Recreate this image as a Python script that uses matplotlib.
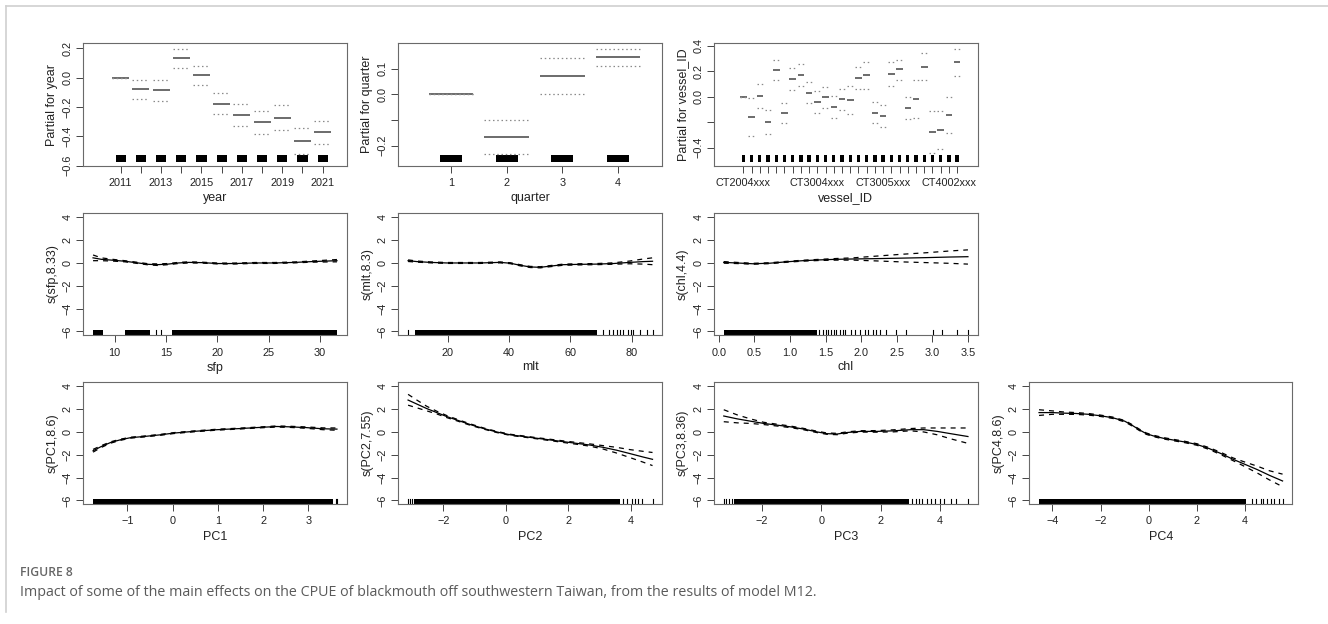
import matplotlib
matplotlib.use('Agg')
import matplotlib.pyplot as plt
from matplotlib.transforms import blended_transform_factory
from matplotlib.patches import Rectangle
from matplotlib.lines import Line2D

plt.rcParams['font.family'] = ['Liberation Sans', 'DejaVu Sans']
plt.rcParams['axes.unicode_minus'] = True

# ---------------- data ----------------
years = [2011, 2012, 2013, 2014, 2015, 2016, 2017, 2018, 2019, 2020, 2021]
year_fit = [0.0, -0.080, -0.086, 0.132, 0.016, -0.177, -0.255, -0.305, -0.273, -0.430, -0.373]
year_upper = [0.0, -0.016, -0.018, 0.198, 0.082, -0.107, -0.182, -0.230, -0.186, -0.341, -0.293]
year_lower = [0.0, -0.145, -0.157, 0.064, -0.052, -0.250, -0.327, -0.384, -0.359, -0.520, -0.455]
year_tick_labels = ['2011', '', '2013', '', '2015', '', '2017', '', '2019', '', '2021']

quarters = [1, 2, 3, 4]
quarter_fit = [0.0, -0.166, 0.071, 0.144]
quarter_upper = [0.0, -0.101, 0.140, 0.178]
quarter_lower = [0.0, -0.231, 0.0, 0.110]
quarter_tick_labels = ['1', '2', '3', '4']

vessel_levels = list(range(1, 28))
vessel_fit = [0.0, -0.16, 0.005, -0.20, 0.21, -0.13, 0.136, 0.167, 0.031, -0.042, -0.005, -0.084,
              -0.021, -0.024, 0.149, 0.167, -0.125, -0.154, 0.175, 0.214, -0.092, -0.021, 0.235,
              -0.28, -0.264, -0.14, 0.27]
vessel_upper = [0.0, -0.01, 0.097, -0.105, 0.29, -0.047, 0.228, 0.254, 0.115, 0.047, 0.076, 0.003,
                0.063, 0.086, 0.235, 0.275, -0.044, -0.068, 0.272, 0.29, -0.005, 0.128, 0.345,
                -0.11, -0.11, 0.0, 0.374]
vessel_lower = [0.0, -0.31, -0.087, -0.29, 0.128, -0.21, 0.05, 0.081, -0.052, -0.13, -0.09, -0.167,
                -0.105, -0.133, 0.063, 0.06, -0.21, -0.235, 0.081, 0.13, -0.175, -0.17, 0.128,
                -0.444, -0.413, -0.282, 0.16]
vessel_tick_labels = ['CT2004xxx'] + [''] * 8 + ['CT3004xxx'] + [''] * 7 + ['CT3005xxx'] + [''] * 7 + ['CT4002xxx', '']

sfp_x = [7.9, 8.7, 9.7, 11.0, 12.3, 13.3, 14.2, 15.2, 16.2, 17.2, 18.5, 20.1, 21.7, 23.7, 25.6, 27.6, 29.2, 31.66]
sfp_fit = [0.45, 0.32, 0.25, 0.15, 0.0, -0.12, -0.15, -0.1, 0.0, 0.05, 0.03, -0.05, -0.05, 0.0, 0.0, 0.05, 0.12, 0.2]
sfp_upper = [0.7, 0.45, 0.33, 0.2, 0.05, -0.07, -0.08, -0.05, 0.05, 0.1, 0.07, -0.01, -0.01, 0.04, 0.04, 0.09, 0.17, 0.3]
sfp_lower = [0.2, 0.2, 0.17, 0.1, -0.05, -0.17, -0.22, -0.15, -0.05, 0.0, -0.01, -0.09, -0.09, -0.04, -0.04, 0.01, 0.07, 0.1]
sfp_rug_spans = [(7.9, 8.9), (11.0, 13.4), (15.6, 31.66)]
sfp_rug_ticks = [14.0, 14.55]

mlt_x = [7.1, 10, 14.4, 19.8, 25.2, 30.6, 37.1, 40.4, 43.6, 46.9, 50.2, 53.4, 57.7, 63.2, 68.6, 74.0, 79.4, 83.8, 86.8]
mlt_fit = [0.2, 0.12, 0.05, 0.0, 0.0, 0.0, 0.05, -0.02, -0.2, -0.35, -0.38, -0.28, -0.15, -0.12, -0.1, -0.05, 0.05, 0.12, 0.15]
mlt_upper = [0.27, 0.17, 0.09, 0.04, 0.04, 0.04, 0.09, 0.02, -0.15, -0.3, -0.33, -0.23, -0.1, -0.07, -0.05, 0.01, 0.17, 0.35, 0.45]
mlt_lower = [0.13, 0.07, 0.01, -0.04, -0.04, -0.04, 0.01, -0.06, -0.25, -0.4, -0.43, -0.33, -0.2, -0.17, -0.15, -0.11, -0.07, -0.1, -0.15]
mlt_rug_spans = [(9.2, 68.6)]
mlt_rug_ticks = [7.1, 70.8, 72.7, 74.0, 75.3, 76.2, 77.3, 78.9, 79.8, 80.5, 82.7, 84.9, 86.8]

chl_x = [0.07, 0.25, 0.48, 0.72, 0.95, 1.18, 1.42, 1.65, 1.89, 2.21, 2.54, 2.92, 3.24, 3.5]
chl_fit = [0.05, 0.0, -0.07, -0.02, 0.1, 0.2, 0.27, 0.32, 0.35, 0.38, 0.42, 0.47, 0.52, 0.55]
chl_upper = [0.12, 0.05, -0.03, 0.02, 0.14, 0.24, 0.32, 0.39, 0.45, 0.6, 0.75, 0.9, 1.05, 1.15]
chl_lower = [-0.02, -0.05, -0.11, -0.06, 0.06, 0.16, 0.22, 0.25, 0.25, 0.18, 0.1, 0.03, -0.03, -0.1]
chl_rug_spans = [(0.07, 1.38)]
chl_rug_ticks = [1.41, 1.46, 1.50, 1.53, 1.58, 1.62, 1.65, 1.70, 1.74, 1.78, 1.86, 1.91, 1.98, 2.05,
                 2.10, 2.17, 2.21, 2.26, 2.35, 2.49, 2.63, 3.01, 3.13, 3.34, 3.50]

pc1_x = [-1.76, -1.59, -1.37, -1.15, -0.93, -0.64, -0.27, 0.02, 0.46, 0.98, 1.49, 1.93, 2.3, 2.59, 2.96, 3.32, 3.63]
pc1_fit = [-1.65, -1.3, -0.92, -0.68, -0.5, -0.4, -0.25, -0.1, 0.05, 0.2, 0.3, 0.4, 0.48, 0.45, 0.38, 0.28, 0.25]
pc1_upper = [-1.53, -1.22, -0.86, -0.63, -0.46, -0.36, -0.21, -0.06, 0.09, 0.24, 0.34, 0.44, 0.53, 0.50, 0.44, 0.36, 0.35]
pc1_lower = [-1.77, -1.38, -0.98, -0.73, -0.54, -0.44, -0.29, -0.14, 0.01, 0.16, 0.26, 0.36, 0.43, 0.40, 0.32, 0.20, 0.15]
pc1_rug_spans = [(-1.76, 3.55)]
pc1_rug_ticks = [3.6, 3.63]

pc2_x = [-3.13, -2.85, -2.53, -2.21, -1.89, -1.57, -1.14, -0.71, -0.29, 0.14, 0.57, 0.99, 1.42, 1.84, 2.27, 2.7, 3.12, 3.55, 3.98, 4.4, 4.7]
pc2_fit = [2.8, 2.45, 2.05, 1.7, 1.35, 1.05, 0.65, 0.3, 0.0, -0.25, -0.4, -0.55, -0.7, -0.85, -1.0, -1.15, -1.35, -1.6, -1.9, -2.2, -2.4]
pc2_upper = [3.3, 2.8, 2.25, 1.82, 1.44, 1.12, 0.71, 0.35, 0.05, -0.2, -0.35, -0.5, -0.64, -0.78, -0.92, -1.05, -1.2, -1.35, -1.55, -1.7, -1.8]
pc2_lower = [2.35, 2.12, 1.85, 1.58, 1.26, 0.98, 0.59, 0.25, -0.05, -0.3, -0.45, -0.6, -0.76, -0.92, -1.08, -1.25, -1.5, -1.85, -2.25, -2.65, -2.95]
pc2_rug_spans = [(-2.95, 3.65)]
pc2_rug_ticks = [-3.13, -3.06, -2.99, 3.76, 3.87, 4.03, 4.14, 4.24, 4.35, 4.7]

pc3_x = [-3.27, -2.82, -2.38, -1.93, -1.48, -1.03, -0.58, -0.13, 0.2, 0.54, 0.87, 1.32, 1.88, 2.44, 3.0, 3.45, 3.9, 4.35, 4.93]
pc3_fit = [1.4, 1.15, 0.95, 0.75, 0.6, 0.45, 0.25, 0.0, -0.15, -0.18, -0.05, 0.05, 0.05, 0.1, 0.2, 0.2, 0.05, -0.15, -0.4]
pc3_upper = [1.95, 1.5, 1.15, 0.85, 0.68, 0.52, 0.31, 0.06, -0.09, -0.12, 0.01, 0.11, 0.12, 0.19, 0.3, 0.35, 0.35, 0.35, 0.35]
pc3_lower = [0.9, 0.8, 0.75, 0.65, 0.52, 0.38, 0.19, -0.06, -0.21, -0.24, -0.11, -0.01, -0.02, 0.01, 0.1, 0.0, -0.25, -0.6, -1.0]
pc3_rug_spans = [(-2.94, 2.95)]
pc3_rug_ticks = [-3.27, -3.18, -3.09, -3.0, 3.06, 3.17, 3.28, 3.39, 3.56, 3.68, 3.81, 3.99, 4.12, 4.35, 4.52, 4.93]

pc4_x = [-4.55, -4.0, -3.5, -3.0, -2.5, -2.0, -1.5, -1.0, -0.7, -0.4, -0.1, 0.2, 0.6, 1.0, 1.5, 2.0, 2.5, 3.0, 3.5, 4.0, 4.5, 5.0, 5.55]
pc4_fit = [1.7, 1.7, 1.65, 1.62, 1.55, 1.42, 1.25, 0.95, 0.6, 0.2, -0.15, -0.35, -0.55, -0.7, -0.88, -1.1, -1.45, -1.9, -2.4, -2.85, -3.3, -3.8, -4.3]
pc4_upper = [1.95, 1.85, 1.75, 1.7, 1.62, 1.48, 1.31, 1.01, 0.66, 0.26, -0.09, -0.29, -0.49, -0.64, -0.82, -1.03, -1.37, -1.8, -2.28, -2.65, -3.0, -3.4, -3.7]
pc4_lower = [1.45, 1.55, 1.55, 1.54, 1.48, 1.36, 1.19, 0.89, 0.54, 0.14, -0.21, -0.41, -0.61, -0.76, -0.94, -1.17, -1.53, -2.0, -2.52, -3.05, -3.6, -4.2, -4.8]
pc4_rug_spans = [(-4.55, 4.05)]
pc4_rug_ticks = [4.29, 4.43, 4.64, 4.75, 4.92, 5.06, 5.2, 5.41, 5.55]

smooth_yticks = [4, 2, 0, -2, -4, -6]

caption_title = "FIGURE 8"
caption_text = ("Impact of some of the main effects on the CPUE of blackmouth off southwestern Taiwan, "
                "from the results of model M12.")

# ---------------- layout ----------------
W, H = 1328, 624
fig = plt.figure(figsize=(W / 100, H / 100), dpi=100)

TICK_FS = 7.8
LAB_FS = 9.0


def add_ax(x0, x1, y0, y1):
    return fig.add_axes([x0 / W, 1 - y1 / H, (x1 - x0) / W, (y1 - y0) / H])


def fig_text(x, y, s, **kw):
    fig.text(x / W, 1 - y / H, s, **kw)


def style(ax, box, xlabel, ylabel, xticks, xticklabels, yticks, yticklabels):
    ax.set_xticks(xticks)
    ax.set_xticklabels(xticklabels)
    ax.set_yticks(yticks)
    ax.set_yticklabels(yticklabels, rotation=90, va='center')
    for s in ax.spines.values():
        s.set_color('#6a6a6a')
        s.set_linewidth(0.8)
    ax.tick_params(direction='out', length=5, width=0.7, color='#444444',
                   labelsize=TICK_FS, labelcolor='#222222')
    ax.tick_params(axis='x', pad=4)
    ax.tick_params(axis='y', pad=2.5)
    x0, x1, y0, y1 = box
    fig_text((x0 + x1) / 2, y1 + 32.5, xlabel, ha='center', va='center', fontsize=LAB_FS, color='#222222')
    fig_text(x0 - 31, (y0 + y1) / 2, ylabel, ha='center', va='center', rotation=90,
             fontsize=LAB_FS, color='#222222')


def factor_panel(box, levels, fit, upper, lower, ticklabels, xlim, ylim, yticks, yticklabels,
                 xlabel, ylabel, half=0.4, rug_half=0.2):
    ax = add_ax(*box)
    ax.set_xlim(*xlim)
    ax.set_ylim(*ylim)
    for lv, f, u, l in zip(levels, fit, upper, lower):
        ax.plot([lv - half, lv + half], [f, f], color='#444444', lw=1.1, solid_capstyle='butt')
        ax.plot([lv - half, lv + half], [u, u], color='#8a8a8a', lw=0.9, ls=(0, (1.2, 2.2)))
        ax.plot([lv - half, lv + half], [l, l], color='#8a8a8a', lw=0.9, ls=(0, (1.2, 2.2)))
    tr = blended_transform_factory(ax.transData, ax.transAxes)
    for lv in levels:
        ax.add_patch(Rectangle((lv - rug_half, 0.03), 2 * rug_half, 0.057, transform=tr,
                               facecolor='black', edgecolor='none'))
    style(ax, box, xlabel, ylabel, levels, ticklabels, yticks, yticklabels)
    return ax


def smooth_panel(box, x, fit, upper, lower, spans, ticks, xticks, xticklabels, xlabel, ylabel):
    ax = add_ax(*box)
    r = max(x) - min(x)
    ax.set_xlim(min(x) - 0.04 * r, max(x) + 0.04 * r)
    ax.set_ylim(-6.32, 4.41)
    ax.plot(x, fit, color='black', lw=0.9)
    ax.plot(x, upper, color='black', lw=0.9, ls=(0, (4, 4)))
    ax.plot(x, lower, color='black', lw=0.9, ls=(0, (4, 4)))
    tr = blended_transform_factory(ax.transData, ax.transAxes)
    for a, b in spans:
        ax.add_patch(Rectangle((a, 0.0), b - a, 0.04, transform=tr,
                               facecolor='black', edgecolor='none'))
    for t in ticks:
        ax.add_line(Line2D([t, t], [0.0, 0.04], transform=tr, color='black', lw=0.8))
    style(ax, box, xlabel, ylabel, xticks, xticklabels, smooth_yticks,
          [str(v).replace('-', '\u2212') for v in smooth_yticks])
    return ax


C1 = (83.3, 346.7)
C2 = (398.3, 662.3)
C3 = (714.0, 977.7)
C4 = (1029.3, 1292.3)
R1 = (43.3, 165.7)
R2 = (212.7, 335.0)
R3 = (381.7, 504.0)

factor_panel((C1[0], C1[1], R1[0], R1[1]), years, year_fit, year_upper, year_lower, year_tick_labels,
             (2009.15, 2022.19), (-0.6, 0.234), [0.2, 0.0, -0.2, -0.4, -0.6],
             ['0.2', '0.0', '\u22120.2', '\u22120.4', '\u22120.6'], 'year', 'Partial for year',
             half=0.42, rug_half=0.25)
factor_panel((C2[0], C2[1], R1[0], R1[1]), quarters, quarter_fit, quarter_upper, quarter_lower,
             quarter_tick_labels, (0.054, 4.796), (-0.278, 0.199), [0.1, 0.0, -0.1, -0.2],
             ['0.1', '0.0', '', '\u22120.2'], 'quarter', 'Partial for quarter', half=0.4, rug_half=0.2)
factor_panel((C3[0], C3[1], R1[0], R1[1]), vessel_levels, vessel_fit, vessel_upper, vessel_lower,
             vessel_tick_labels, (-2.57, 29.5), (-0.541, 0.418), [0.4, 0.2, 0.0, -0.2, -0.4],
             ['0.4', '0.2', '0.0', '', '\u22120.4'], 'vessel_ID', 'Partial for vessel_ID',
             half=0.4, rug_half=0.2)

smooth_panel((C1[0], C1[1], R2[0], R2[1]), sfp_x, sfp_fit, sfp_upper, sfp_lower, sfp_rug_spans,
             sfp_rug_ticks, [10, 15, 20, 25, 30], ['10', '15', '20', '25', '30'], 'sfp', 's(sfp,8.33)')
smooth_panel((C2[0], C2[1], R2[0], R2[1]), mlt_x, mlt_fit, mlt_upper, mlt_lower, mlt_rug_spans,
             mlt_rug_ticks, [20, 40, 60, 80], ['20', '40', '60', '80'], 'mlt', 's(mlt,8.3)')
smooth_panel((C3[0], C3[1], R2[0], R2[1]), chl_x, chl_fit, chl_upper, chl_lower, chl_rug_spans,
             chl_rug_ticks, [0.0, 0.5, 1.0, 1.5, 2.0, 2.5, 3.0, 3.5],
             ['0.0', '0.5', '1.0', '1.5', '2.0', '2.5', '3.0', '3.5'], 'chl', 's(chl,4.4)')

smooth_panel((C1[0], C1[1], R3[0], R3[1]), pc1_x, pc1_fit, pc1_upper, pc1_lower, pc1_rug_spans,
             pc1_rug_ticks, [-1, 0, 1, 2, 3], ['\u22121', '0', '1', '2', '3'], 'PC1', 's(PC1,8.6)')
smooth_panel((C2[0], C2[1], R3[0], R3[1]), pc2_x, pc2_fit, pc2_upper, pc2_lower, pc2_rug_spans,
             pc2_rug_ticks, [-2, 0, 2, 4], ['\u22122', '0', '2', '4'], 'PC2', 's(PC2,7.55)')
smooth_panel((C3[0], C3[1], R3[0], R3[1]), pc3_x, pc3_fit, pc3_upper, pc3_lower, pc3_rug_spans,
             pc3_rug_ticks, [-2, 0, 2, 4], ['\u22122', '0', '2', '4'], 'PC3', 's(PC3,8.36)')
smooth_panel((C4[0], C4[1], R3[0], R3[1]), pc4_x, pc4_fit, pc4_upper, pc4_lower, pc4_rug_spans,
             pc4_rug_ticks, [-4, -2, 0, 2, 4], ['\u22124', '\u22122', '0', '2', '4'], 'PC4', 's(PC4,8.6)')

# frame lines of the figure box
fig.add_artist(Line2D([6 / W, 1.0], [1 - 6 / H, 1 - 6 / H], color='#d0d0d0', lw=1.2))
fig.add_artist(Line2D([6 / W, 6 / W], [1 - 6 / H, 1 - 612 / H], color='#d0d0d0', lw=1.2))

fig_text(20, 572, caption_title, ha='left', va='center', fontsize=8.7, color='#666666',
         family=['Open Sans', 'DejaVu Sans'], fontweight='semibold')
fig_text(20, 592, caption_text, ha='left', va='center', fontsize=10.3, color='#5a5a5a',
         family=['Open Sans', 'DejaVu Sans'])

fig.savefig('out.png', dpi=100, facecolor='white')
